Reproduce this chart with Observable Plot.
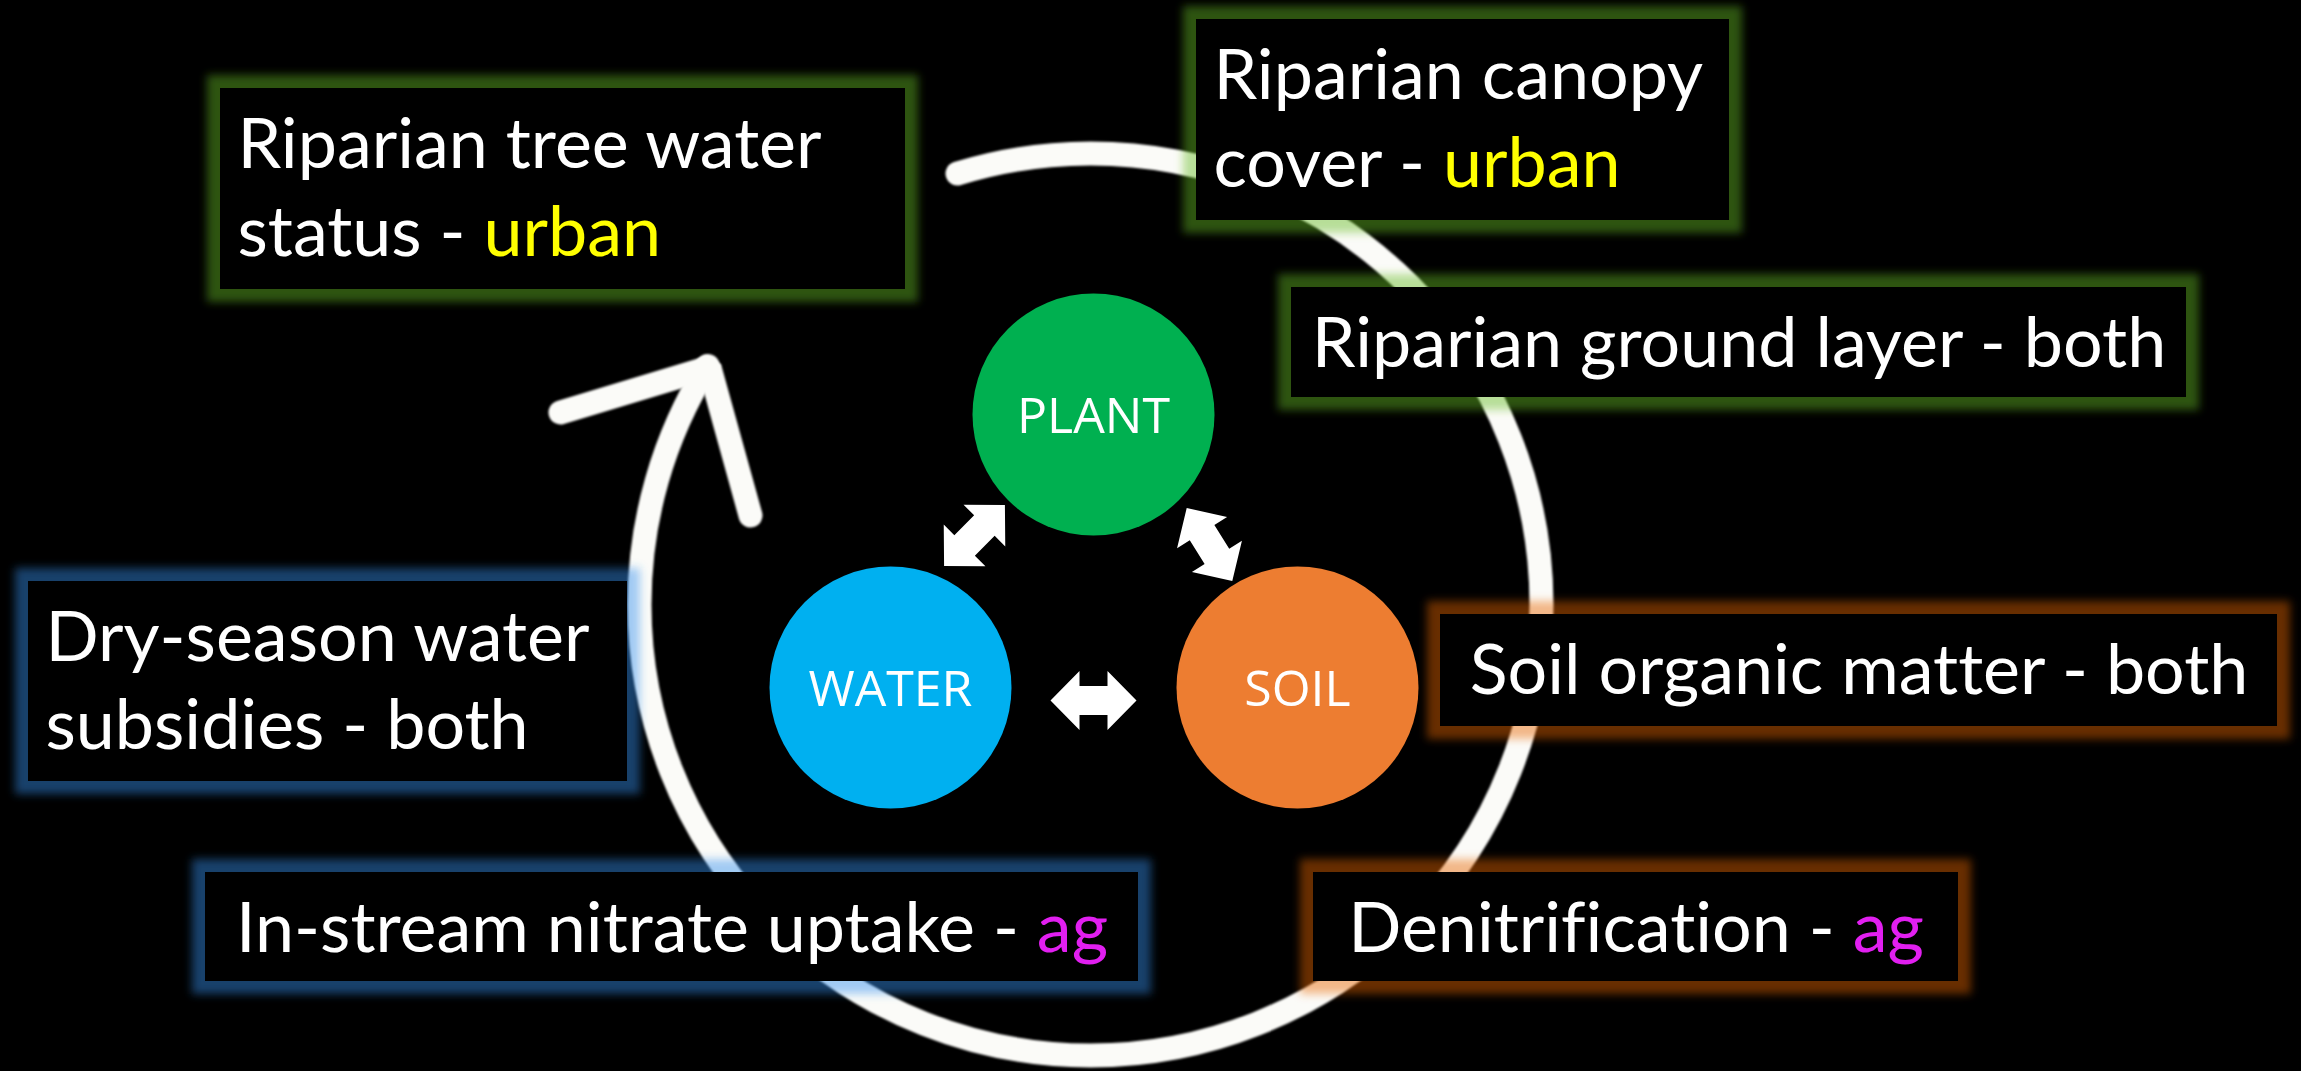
<!DOCTYPE html>
<html>
<head>
<meta charset="utf-8">
<script src="https://cdn.jsdelivr.net/npm/d3@7"></script>
<script src="https://cdn.jsdelivr.net/npm/@observablehq/plot@0.6"></script>
<style>
  html, body { margin: 0; padding: 0; background: #000; overflow: hidden; }
  #chart text, #chart tspan { font-variant-ligatures: none; font-feature-settings: "liga" 0, "clig" 0; }
</style>
</head>
<body>
<div id="chart"></div>
<script>
const W = 2301, H = 1071;

// ---- central nodes ----
const nodeNames = ["PLANT", "WATER", "SOIL"];
const nodeX = [1093, 890, 1297];
const nodeY = [414, 687, 687];
const nodeColors = ["#00b050", "#00b0f0", "#ed7d31"];

// ---- double-headed arrows between nodes ----
const linkX = [974, 1209, 1093];
const linkY = [535, 544, 700];
const linkAngle = [-45, 58, 0];

// ---- outer cycle ring (centre, start/end angle clockwise from 12 o'clock) ----
const ringX = [1090];
const ringY = [604];
const ringStartDeg = -17.2;
const ringEndDeg = 301.9;
// arrow head of the cycle (chevron vertices)
const headX = [560, 709, 750];
const headY = [412, 367, 515];

// ---- label boxes ----
const boxLines = [
  ["Riparian tree water", "status - urban"],
  ["Riparian canopy", "cover - urban"],
  ["Riparian ground layer - both"],
  ["Dry-season water", "subsidies - both"],
  ["In-stream nitrate uptake - ag"],
  ["Soil organic matter - both"],
  ["Denitrification - ag"]
];
const boxGroup = ["PLANT", "PLANT", "PLANT", "WATER", "WATER", "SOIL", "SOIL"];
const boxX1 = [220, 1196, 1291, 28, 205, 1440, 1313];
const boxX2 = [905, 1729, 2186, 627, 1138, 2277, 1958];
const boxY1 = [88, 19, 287, 581, 872, 614, 872];
const boxY2 = [289, 220, 397, 781, 981, 726, 981];

// colours
const tagColors = { urban: "#ffff00", ag: "#e11ff0" };
const glowColors = { PLANT: "#64bb1e", WATER: "#3791ed", SOIL: "#e66400" };

// ---- derived text rows ----
const textRows = [];
boxLines.forEach((lines, b) => {
  lines.forEach((t, i) => {
    textRows.push({
      text: t,
      multi: lines.length > 1,
      x: lines.length > 1 ? boxX1[b] + 17 : (boxX1[b] + boxX2[b]) / 2,
      y: boxY1[b] + 79 + i * 88
    });
  });
});
const leftRows = textRows.filter(d => d.multi);
const centerRows = textRows.filter(d => !d.multi);

// ring dash pattern
const ringR = 451;
const C = 2 * Math.PI * ringR;
const arcLen = (ringEndDeg - ringStartDeg) / 360 * C;
const startS = (((ringStartDeg - 90) % 360) + 360) % 360 / 360 * C;

// double arrow symbol
const doubleArrow = {
  draw(context, size) {
    const s = Math.sqrt(size / Math.PI) / 43;
    const pts = [[43, 0], [14, -29.5], [14, -14.5], [-14, -14.5], [-14, -29.5],
                 [-43, 0], [-14, 29.5], [-14, 14.5], [14, 14.5], [14, 29.5]];
    context.moveTo(pts[0][0] * s, pts[0][1] * s);
    for (let i = 1; i < pts.length; i++) context.lineTo(pts[i][0] * s, pts[i][1] * s);
    context.closePath();
  }
};

const boxIdx = boxGroup.map((_, i) => i);
const headIdx = headX.map((_, i) => i);

const plot = Plot.plot({
  width: W,
  height: H,
  margin: 0,
  style: { background: "#000" },
  x: { domain: [0, W], range: [0, W], axis: null },
  y: { domain: [0, H], range: [0, H], axis: null },
  color: { type: "identity" },
  marks: [
    Plot.dot([0], {
      x: ringX, y: ringY, r: ringR,
      fill: "none", stroke: "#fbfbf8", strokeWidth: 24,
      strokeLinecap: "round",
      strokeDasharray: `${arcLen} ${C - arcLen}`,
      strokeDashoffset: -startS
    }),
    Plot.line(headIdx, {
      x: headX, y: headY,
      stroke: "#fbfbf8", strokeWidth: 24,
      strokeLinecap: "round", strokeLinejoin: "miter"
    }),
    Plot.rect(boxIdx, {
      x1: boxX1, x2: boxX2, y1: boxY1, y2: boxY2,
      inset: -13,
      fill: boxGroup.map(g => glowColors[g]),
      fillOpacity: 0.45
    }),
    Plot.rect(boxIdx, {
      x1: boxX1, x2: boxX2, y1: boxY1, y2: boxY2,
      fill: "#000"
    }),
    Plot.text(leftRows, {
      x: "x", y: "y", text: "text",
      textAnchor: "start", lineAnchor: "bottom",
      fill: "#ffffff", fontFamily: "Lato", fontSize: 70
    }),
    Plot.text(centerRows, {
      x: "x", y: "y", text: "text",
      textAnchor: "middle", lineAnchor: "bottom",
      fill: "#ffffff", fontFamily: "Lato", fontSize: 70
    }),
    Plot.dot(nodeNames, {
      x: nodeX, y: nodeY, r: 121,
      fill: nodeColors, stroke: "none"
    }),
    Plot.text(nodeNames, {
      x: nodeX, y: nodeY, text: nodeNames,
      fill: "#ffffff", fontFamily: "Open Sans", fontSize: 50,
      lineAnchor: "middle", dy: 2
    }),
    Plot.dot(linkX, {
      x: linkX, y: linkY, rotate: linkAngle,
      symbol: doubleArrow, r: 43,
      fill: "#ffffff", stroke: "none"
    })
  ]
});

// ---- post-render touches: filters and coloured tags ----
const NS = "http://www.w3.org/2000/svg";
const defs = document.createElementNS(NS, "defs");
defs.innerHTML =
  '<filter id="glowBlur" x="-20%" y="-60%" width="140%" height="220%">' +
  '<feGaussianBlur stdDeviation="4"/></filter>' +
  '<filter id="softBlur" x="-10%" y="-10%" width="120%" height="120%">' +
  '<feGaussianBlur stdDeviation="1"/></filter>';
plot.insertBefore(defs, plot.firstChild);

const glowSet = new Set(Object.values(glowColors));
plot.querySelectorAll("rect").forEach(r => {
  if (glowSet.has(r.getAttribute("fill"))) r.setAttribute("filter", "url(#glowBlur)");
});
plot.querySelectorAll("circle").forEach(c => {
  if (+c.getAttribute("r") === ringR) c.setAttribute("filter", "url(#softBlur)");
});
plot.querySelectorAll('g[aria-label="line"] path').forEach(p => p.setAttribute("filter", "url(#softBlur)"));

plot.querySelectorAll("text").forEach(el => {
  const m = el.textContent.match(/^(.*- )(urban|ag)$/);
  if (!m) return;
  el.textContent = "";
  const a = document.createElementNS(NS, "tspan");
  a.textContent = m[1];
  const b = document.createElementNS(NS, "tspan");
  b.textContent = m[2];
  b.setAttribute("fill", tagColors[m[2]]);
  el.appendChild(a);
  el.appendChild(b);
});

document.getElementById("chart").appendChild(plot);
</script>
</body>
</html>
